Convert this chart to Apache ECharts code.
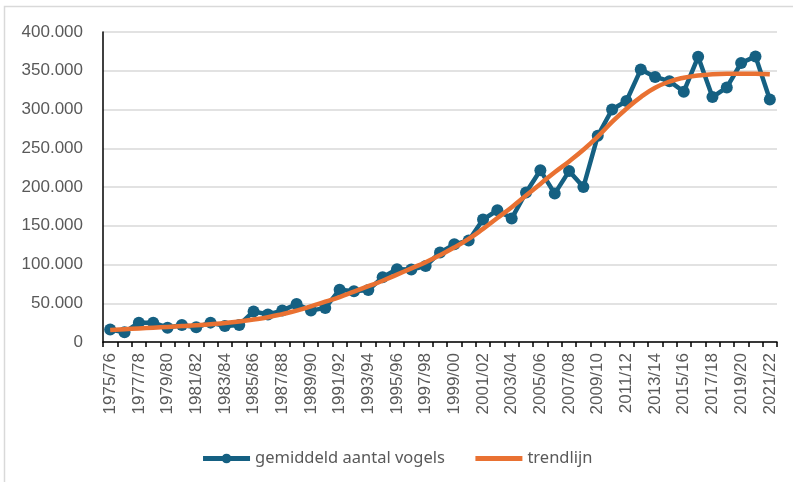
<!DOCTYPE html>
<html>
<head>
<meta charset="utf-8">
<script src="https://cdn.jsdelivr.net/npm/echarts@6/dist/echarts.min.js"></script>
<style>
  html, body { margin: 0; padding: 0; background: #fff; }
  #chart { width: 793px; height: 482px; }
</style>
</head>
<body>
<div id="chart"></div>
<script>
// seizoenen
const seasons = [
  "1975/76", "1976/77", "1977/78", "1978/79", "1979/80", "1980/81", "1981/82", "1982/83",
  "1983/84", "1984/85", "1985/86", "1986/87", "1987/88", "1988/89", "1989/90", "1990/91",
  "1991/92", "1992/93", "1993/94", "1994/95", "1995/96", "1996/97", "1997/98", "1998/99",
  "1999/00", "2000/01", "2001/02", "2002/03", "2003/04", "2004/05", "2005/06", "2006/07",
  "2007/08", "2008/09", "2009/10", "2010/11", "2011/12", "2012/13", "2013/14", "2014/15",
  "2015/16", "2016/17", "2017/18", "2018/19", "2019/20", "2020/21", "2021/22"
];

// gemiddeld aantal vogels
const birds = [
  16000, 12500, 25000, 25000, 18500, 22000, 19000, 25000,
  20500, 22000, 39500, 35500, 40500, 49000, 40500, 44000,
  67500, 65500, 67000, 83500, 94000, 93500, 98000, 115500,
  126000, 131000, 158000, 170000, 159500, 193000, 221500, 191500,
  220500, 200000, 266000, 300000, 311000, 351500, 342000, 336500,
  323000, 368000, 316000, 328500, 360000, 368500, 313000
];

// trendlijn
const trend = [
  15500, 16500, 17500, 18500, 19500, 20500, 21500, 23000,
  24500, 26500, 29000, 32000, 36000, 40500, 46000, 52000,
  58000, 65000, 72000, 79000, 87000, 95000, 103000, 112000,
  122000, 133000, 146000, 160000, 174000, 189000, 204000, 219000,
  233000, 248000, 265000, 284000, 301000, 316000, 328000, 336000,
  341000, 344000, 345500, 346000, 346000, 346000, 345500
];

const chart = echarts.init(document.getElementById("chart"));

// 400.000 notatie
const fmt = (v) => String(v).replace(/\B(?=(\d{3})+(?!\d))/g, ".");

chart.setOption({
  animation: false,
  graphic: [
    {
      type: "rect",
      shape: { x: 4.5, y: 6.5, width: 820, height: 500 },
      style: { fill: "none", stroke: "#d9d9d9", lineWidth: 1.5 },
      silent: true,
    },
  ],
  grid: {
    left: 103,
    right: 16,
    top: 32,
    bottom: 140,
    outerBoundsMode: "none",
  },
  legend: {
    top: 445,
    left: "center",
    itemWidth: 47,
    itemHeight: 12,
    itemGap: 28,
    textStyle: {
      color: "#595959",
      fontSize: 16.5,
      fontFamily: "Noto Sans",
    },
    data: [
      { name: "gemiddeld aantal vogels", lineStyle: { width: 5 } },
      { name: "trendlijn", itemStyle: { opacity: 0 }, lineStyle: { width: 5 } },
    ],
  },
  xAxis: {
    type: "category",
    data: seasons,
    boundaryGap: true,
    axisLine: { lineStyle: { color: "#000", width: 1.5 } },
    axisTick: { show: true, interval: 0, length: 5, lineStyle: { color: "#000", width: 1.5 } },
    axisLabel: {
      interval: 1,
      rotate: 90,
      margin: 11,
      color: "#595959",
      fontSize: 17,
      fontFamily: "Liberation Sans",
    },
  },
  yAxis: {
    type: "value",
    min: 0,
    max: 400000,
    interval: 50000,
    axisLine: { show: true, lineStyle: { color: "#000", width: 1.5 } },
    axisTick: { show: false },
    splitLine: { lineStyle: { color: "#d9d9d9", width: 1.5 } },
    axisLabel: {
      margin: 20,
      color: "#595959",
      fontSize: 17,
      fontFamily: "Liberation Sans",
      formatter: fmt,
    },
  },
  series: [
    {
      name: "gemiddeld aantal vogels",
      type: "line",
      data: birds,
      symbol: "circle",
      symbolSize: 12,
      showAllSymbol: true,
      itemStyle: { color: "#156082" },
      lineStyle: { color: "#156082", width: 4.5 },
      z: 2,
    },
    {
      name: "trendlijn",
      type: "line",
      data: trend,
      smooth: true,
      symbol: "none",
      itemStyle: { color: "#E97132" },
      lineStyle: { color: "#E97132", width: 4.5 },
      z: 3,
    },
  ],
});
</script>
</body>
</html>
